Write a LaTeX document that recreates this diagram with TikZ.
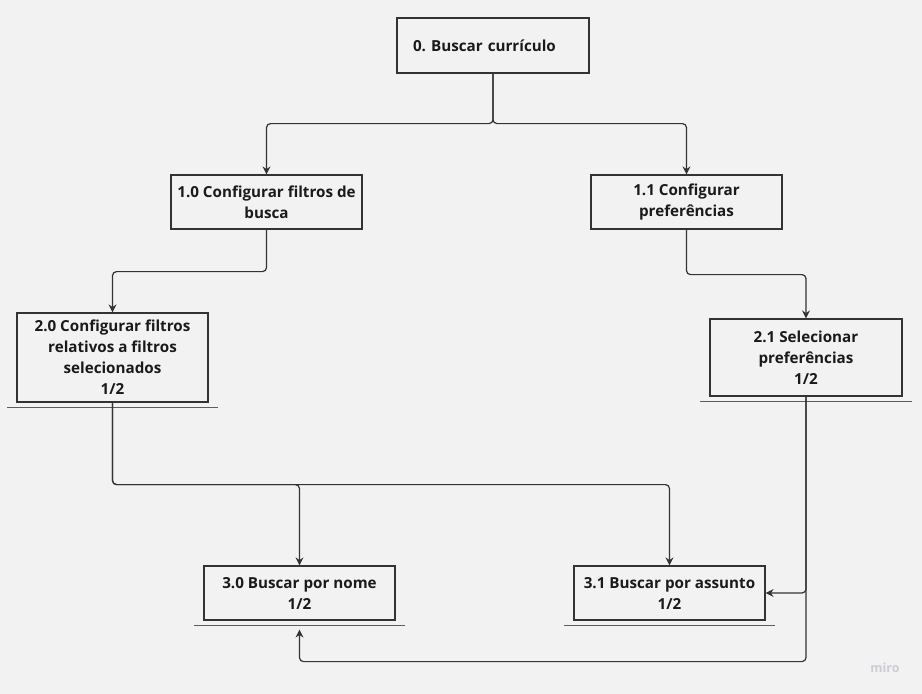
\documentclass[tikz,border=0pt]{standalone}
\usepackage{fontspec}
\setmainfont{Open Sans}
\frenchspacing
\definecolor{bggray}{RGB}{242, 242, 242}
\definecolor{boxline}{RGB}{51, 51, 51}
\definecolor{textdark}{RGB}{26, 26, 26}
\definecolor{mirogray}{RGB}{205, 204, 214}
\usetikzlibrary{arrows.meta, positioning}

\begin{document}
\begin{tikzpicture}[x=1pt, y=-1pt,
    procbox/.style={draw=boxline, line width=1.2pt, text=textdark, align=center, inner sep=0pt, minimum width=191pt, minimum height=54pt, font=\fontsize{15.2}{21}\selectfont\bfseries},
    conn/.style={draw=boxline, line width=1.2pt, rounded corners=4pt, -{Stealth[length=8pt, width=8pt]}},
    underline/.style={draw=boxline!80, line width=0.8pt}]
  \fill[bggray] (0,0) rectangle (922,694);
  \node[procbox, minimum width=192pt, minimum height=55pt, text width=160pt, align=left] (b0) at (493, 45.5) {0. Buscar currículo};
  \node[procbox] (b10) at (266.5, 202) {1.0 Configurar filtros de\\busca};
  \node[procbox] (b11) at (686.5, 202) {1.1 Configurar\\preferências};
  \node[procbox, minimum height=89pt] (b20) at (112.5, 357.5) {2.0 Configurar filtros\\relativos a filtros\\selecionados\\1/2};
  \node[procbox, minimum width=192pt, minimum height=77pt] (b21) at (806, 357.5) {2.1 Selecionar\\preferências\\1/2};
  \node[procbox] (b30) at (299.5, 593) {3.0 Buscar por nome\\1/2};
  \node[procbox] (b31) at (669.5, 593) {3.1 Buscar por assunto\\1/2};
  \foreach \b in {b20, b21, b30, b31} {
    \draw[underline] ([xshift=-9pt, yshift=-5pt]\b.south west) -- ([xshift=9pt, yshift=-5pt]\b.south east);
  }
  \draw[conn] (b0.south) -- ++(0, 50) -| (b10.north);
  \draw[conn] (b0.south) -- ++(0, 50) -| (b11.north);
  \draw[conn] (b10.south) -- ++(0, 42) -| (b20.north);
  \draw[conn] (b11.south) -- ++(0, 45) -| (b21.north);
  \draw[conn] (b20.south) -- ++(0, 82) -| (b30.north);
  \draw[conn] (b20.south) -- ++(0, 82) -| (b31.north);
  \draw[conn] (b21.south) |- (b31.east);
  \draw[conn, shorten >=9pt] (b21.south) -- ++(0, 265) -| (b30.south);
  \node[text=mirogray, font=\fontsize{12.5}{14}\selectfont\bfseries] (miro) at (885, 668) {miro};
\end{tikzpicture}
\end{document}
